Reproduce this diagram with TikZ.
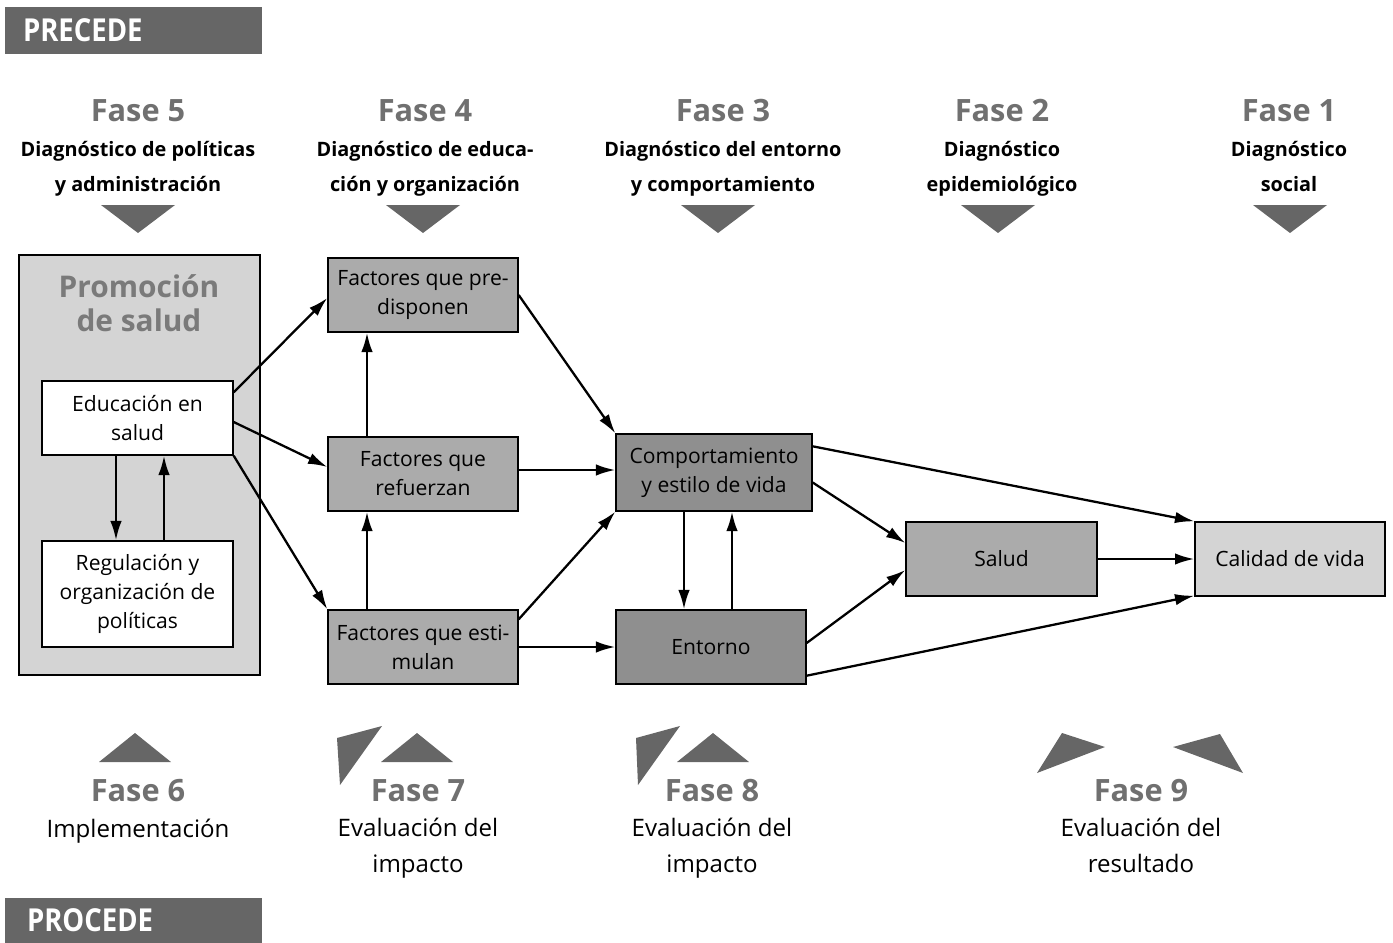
\documentclass[tikz,border=0pt]{standalone}
\usepackage{fontspec}
\setmainfont{Open Sans}
\newfontfamily\narrowfont[FakeStretch=0.87]{Open Sans}
\usetikzlibrary{arrows.meta,calc}
\definecolor{BarGray}{RGB}{102,102,102}
\definecolor{FaseGray}{RGB}{112,112,112}
\definecolor{TitleGray}{RGB}{122,122,122}
\definecolor{PaleGray}{RGB}{212,212,212}
\definecolor{MidGray}{RGB}{171,171,171}
\definecolor{DarkGray}{RGB}{143,143,143}
\tikzset{
  >=Latex,
  box/.style={draw=black,line width=.8pt,align=center,text=black,font=\fontsize{12}{16.5}\selectfont,minimum width=3.8cm,minimum height=1.48cm,inner sep=2pt},
  plain/.style={box,fill=white,minimum width=3.82cm},
  factor/.style={box,fill=MidGray},
  core/.style={box,fill=DarkGray},
  outcome/.style={box,fill=PaleGray},
  bar/.style={fill=BarGray,text=white,font=\narrowfont\fontsize{18}{20}\selectfont\bfseries,minimum width=5.14cm,text width=4.42cm,align=left,inner xsep=.36cm},
  fase/.style={font=\fontsize{17.5}{21}\selectfont\bfseries,text=FaseGray},
  diag/.style={font=\fontsize{11.3}{20}\selectfont\bfseries,align=center},
  stage/.style={font=\fontsize{13.7}{20}\selectfont,align=center},
  tri/.style={fill=BarGray},
  arr/.style={-{Latex[length=11pt,width=6.5pt]},line width=1.3pt}
}
\begin{document}
\begin{tikzpicture}[x=.02cm,y=-.02cm]
  \useasboundingbox (0,0) rectangle (1393,943);
  % PRECEDE / PROCEDE bars
  \node[bar,minimum height=.94cm] (precede) at (133.5,30.5) {PRECEDE};
  \node[bar,minimum height=.9cm,inner xsep=.44cm,text width=4.26cm] (procede) at (133.5,920.5) {PROCEDE};
  % diagnosis phases
  \node[fase] (f5) at (138,111) {Fase 5};
  \node[fase] (f4) at (425,111) {Fase 4};
  \node[fase] (f3) at (723,111) {Fase 3};
  \node[fase] (f2) at (1002,111) {Fase 2};
  \node[fase] (f1) at (1289,111) {Fase 1};
  \node[diag] (d5) at (138,172) {Diagnóstico de políticas\\y administración\strut};
  \node[diag] (d4) at (425,172) {Diagnóstico de educa-\\ción y organización\strut};
  \node[diag] (d3) at (723,172) {Diagnóstico del entorno\\y comportamiento\strut};
  \node[diag] (d2) at (1002,172) {Diagnóstico\\epidemiológico\strut};
  \node[diag] (d1) at (1289,172) {Diagnóstico\\social\strut};
  \foreach \x in {138,423,718,998,1290}
    \fill[tri] (\x-37,205) -- (\x+37,205) -- (\x,233) -- cycle;
  % promotion block
  \node[box,fill=PaleGray,minimum width=4.82cm,minimum height=8.4cm] (promo) at (139.5,465) {};
  \node[font=\fontsize{17}{19.5}\selectfont\bfseries,text=TitleGray,align=center] (promotitle) at (139,303) {Promoción\\de salud};
  \node[plain] (edu) at (137.5,418) {Educación en\\salud};
  \node[plain,minimum height=2.12cm] (reg) at (137.5,594) {Regulación y\\organización de\\políticas};
  % factors
  \node[factor] (pred) at (423,295) {Factores que pre-\\disponen};
  \node[factor] (refz) at (423,474) {Factores que\\refuerzan};
  \node[factor] (estim) at (423,647) {Factores que esti-\\mulan};
  \node[core,minimum width=3.92cm,minimum height=1.54cm] (comp) at (714,472.5) {Comportamiento\\y estilo de vida};
  \node[core] (ent) at (711,647) {Entorno};
  \node[factor,minimum width=3.82cm] (salud) at (1001.5,559) {Salud};
  \node[outcome] (cal) at (1290,559) {Calidad de vida};
  % arrows
  \draw[arr] ($(edu.south)+(-21.5,0)$) -- ($(reg.north)+(-21.5,0)$);
  \draw[arr] ($(reg.north)+(26.5,0)$) -- ($(edu.south)+(26.5,0)$);
  \draw[arr] ($(edu.north east)+(0,12)$) -- ($(pred.west)+(0,3)$);
  \draw[arr] ($(edu.east)+(0,4)$) -- ($(refz.west)+(0,-7)$);
  \draw[arr] (edu.south east) -- (estim.north west);
  \draw[arr] ($(refz.north)+(-56,0)$) -- ($(pred.south)+(-56,0)$);
  \draw[arr] ($(estim.north)+(-56,0)$) -- ($(refz.south)+(-56,0)$);
  \draw[arr] (pred.east) -- (comp.north west);
  \draw[arr] ($(refz.east)+(0,-4)$) -- ($(comp.west)+(0,-2.5)$);
  \draw[arr] ($(estim.north east)+(0,10)$) -- (comp.south west);
  \draw[arr] (estim.east) -- (ent.west);
  \draw[arr] ($(comp.south)+(-30,0)$) -- ($(ent.north)+(-27,0)$);
  \draw[arr] ($(ent.north)+(21,0)$) -- ($(comp.south)+(18,0)$);
  \draw[arr] ($(comp.north east)+(0,13)$) -- (cal.north west);
  \draw[arr] ($(comp.east)+(0,10)$) -- ($(salud.west)+(0,-16)$);
  \draw[arr] ($(ent.east)+(0,-4)$) -- ($(salud.west)+(0,11)$);
  \draw[arr] ($(ent.south east)+(0,-9)$) -- ($(cal.south west)+(0,-1)$);
  \draw[arr] (salud.east) -- (cal.west);
  % evaluation phases
  \foreach \x in {135,417,713}
    \fill[tri] (\x-36,762) -- (\x+36,762) -- (\x,733) -- cycle;
  \fill[tri] (337,738) -- (382,726) -- (340,785) -- cycle;
  \fill[tri] (636,738) -- (680,726) -- (638,785) -- cycle;
  \fill[tri] (1062,733) -- (1105,747) -- (1037,773) -- cycle;
  \fill[tri] (1220,734) -- (1173,747) -- (1243,773) -- cycle;
  \node[fase] (f6) at (138,791) {Fase 6};
  \node[fase] (f7) at (418,791) {Fase 7};
  \node[fase] (f8) at (712,791) {Fase 8};
  \node[fase] (f9) at (1141,791) {Fase 9};
  \node[stage] (s6) at (138,830) {Implementación\strut};
  \node[stage] (s7) at (418,850.5) {Evaluación del\\impacto\strut};
  \node[stage] (s8) at (712,850.5) {Evaluación del\\impacto\strut};
  \node[stage] (s9) at (1141,850.5) {Evaluación del\\resultado\strut};
\end{tikzpicture}
\end{document}
